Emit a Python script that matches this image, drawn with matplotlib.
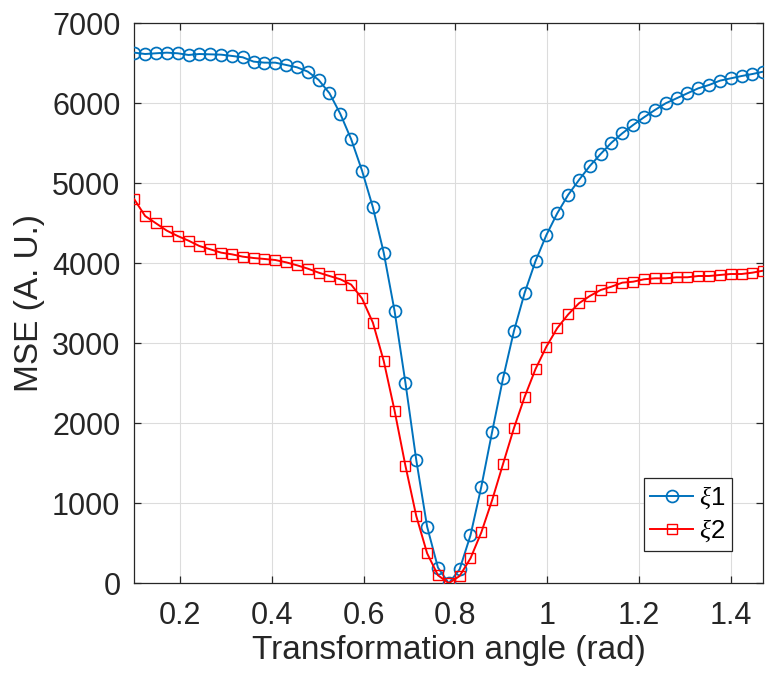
import numpy as np
import matplotlib
matplotlib.use("Agg")
import matplotlib.pyplot as plt

# Transformation angles: 59 samples from 0.1 to pi/2 - 0.1 rad
angle = np.linspace(0.1, np.pi / 2 - 0.1, 59)

mse_xi1 = [
    6633, 6616, 6625, 6633, 6625, 6604, 6616, 6612, 6608, 6592,
    6575, 6521, 6508, 6508, 6479, 6450, 6396, 6292, 6125, 5867,
    5550, 5158, 4700, 4133, 3404, 2508, 1541, 708, 196, 0,
    175, 600, 1208, 1896, 2562, 3150, 3633, 4029, 4354, 4625,
    4854, 5041, 5216, 5366, 5508, 5625, 5729, 5825, 5916, 6000,
    6062, 6125, 6187, 6229, 6283, 6312, 6341, 6366, 6396,
]

mse_xi2 = [
    4800, 4591, 4500, 4408, 4341, 4283, 4216, 4175, 4133, 4112,
    4083, 4066, 4054, 4041, 4012, 3975, 3933, 3883, 3841, 3800,
    3733, 3560, 3258, 2779, 2158, 1470, 841, 375, 100, 0,
    91, 312, 637, 1041, 1491, 1937, 2333, 2679, 2958, 3190,
    3360, 3500, 3591, 3666, 3708, 3758, 3770, 3800, 3812, 3812,
    3825, 3825, 3841, 3841, 3854, 3866, 3866, 3883, 3908,
]

x_ticks = [0.2, 0.4, 0.6, 0.8, 1.0, 1.2, 1.4]
x_tick_labels = ["0.2", "0.4", "0.6", "0.8", "1", "1.2", "1.4"]
y_ticks = [0, 1000, 2000, 3000, 4000, 5000, 6000, 7000]

plt.rcParams["font.family"] = ["Liberation Sans", "DejaVu Sans"]
plt.rcParams["mathtext.fontset"] = "custom"
plt.rcParams["mathtext.it"] = "Liberation Serif:italic"
plt.rcParams["mathtext.rm"] = "Liberation Sans"

fig = plt.figure(figsize=(7.66, 6.81), dpi=100)
ax = fig.add_axes([0.1753, 0.1435, 0.8212, 0.8223])

dark = "#262626"
ax.plot(angle, mse_xi1, "-o", color="#0072BD", lw=1.4, ms=8.6,
        mfc="none", mew=1.25, label=r"$\xi$1", zorder=3)
ax.plot(angle, mse_xi2, "-s", color="#FF0000", lw=1.4, ms=7.0,
        mfc="none", mew=1.0, label=r"$\xi$2", zorder=4)

ax.set_xlim(0.1, np.pi / 2 - 0.1)
ax.set_ylim(0, 7000)
ax.set_xticks(x_ticks)
ax.set_xticklabels(x_tick_labels)
ax.set_yticks(y_ticks)

ax.grid(True, color="#dcdcdc", lw=0.8)
ax.set_axisbelow(True)
for s in ax.spines.values():
    s.set_color(dark)
    s.set_linewidth(0.9)
ax.tick_params(direction="in", length=5, width=0.9, colors=dark,
               labelsize=22, top=True, right=True)
ax.tick_params(axis="x", pad=13)
ax.tick_params(axis="y", pad=10)

ax.set_xlabel("Transformation angle (rad)", fontsize=24, color=dark, labelpad=3)
ax.set_ylabel("MSE (A. U.)", fontsize=24, color=dark, labelpad=5)

leg = ax.legend(loc="lower right", bbox_to_anchor=(0.9498, 0.058), fontsize=18.5,
                frameon=True, fancybox=False, edgecolor=dark, framealpha=1,
                handlelength=1.65, handletextpad=0.25, borderpad=0.25,
                labelspacing=0.25, borderaxespad=0)
leg.get_frame().set_linewidth(0.9)

fig.savefig("out.png", dpi=100)
